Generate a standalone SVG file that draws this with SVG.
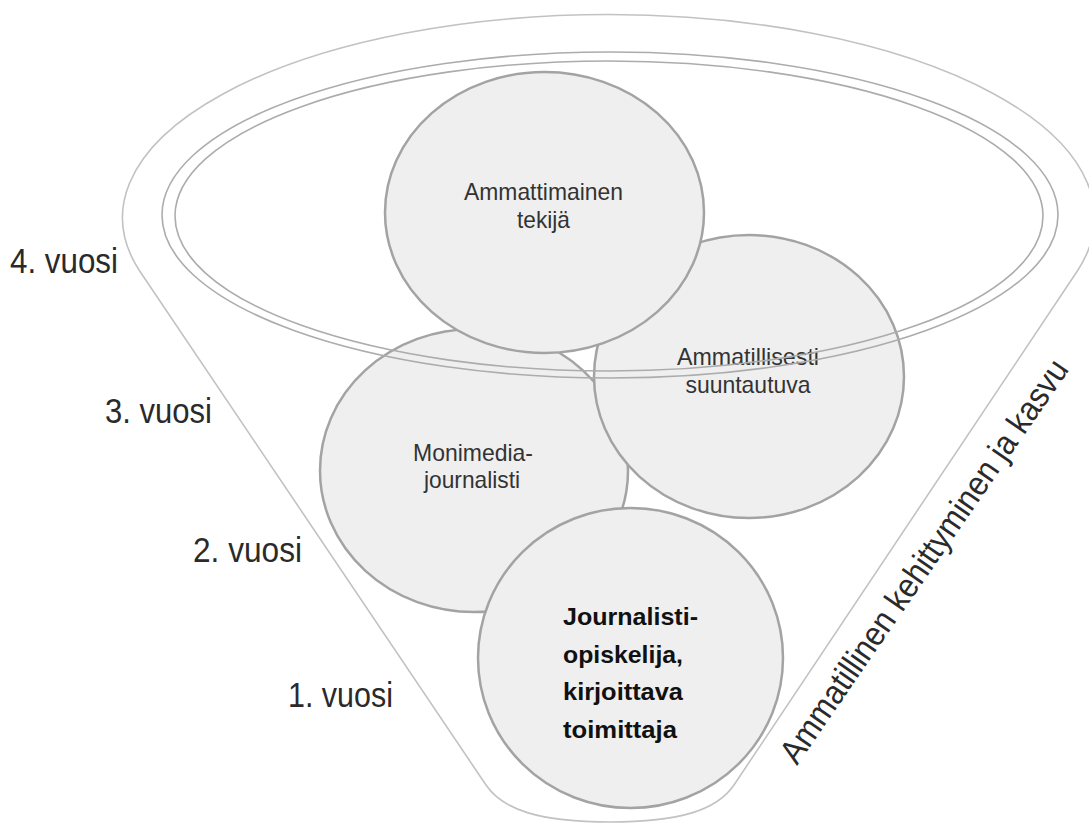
<svg xmlns="http://www.w3.org/2000/svg" width="1089" height="825" viewBox="0 0 1089 825">
<style>
.bubble{fill:#efefef;stroke:#a3a3a3;stroke-width:2.5}
.funnel{fill:none;stroke:#c2c2c2;stroke-width:1.6}
.rim{fill:none;stroke:#acacac;stroke-width:1.6}
.node{font-family:"Liberation Sans",Arial,sans-serif;font-size:24px;fill:#333;text-anchor:middle}
.bold{font-family:"Liberation Sans",Arial,sans-serif;font-weight:bold;font-size:24px;fill:#111}
.year{font-family:"Liberation Sans",Arial,sans-serif;font-size:35px;fill:#2a2a2a}
.side{font-family:"Liberation Sans",Arial,sans-serif;font-size:34px;fill:#2a2a2a}
</style>
<rect width="1089" height="825" fill="#ffffff"/>
<g id="funnel">
<path class="funnel" d="M139 270 A486 203 0 1 1 1078 270 L734 785 C717 810 680 822 610 822 C540 822 503 810 486 785 Z"/>
</g>
<g id="node-monimedia">
<ellipse class="bubble" cx="474" cy="470.5" rx="154" ry="141.5"/>
<text class="node" x="473" y="461" textLength="120" lengthAdjust="spacingAndGlyphs">Monimedia-</text>
<text class="node" x="472" y="488" textLength="96" lengthAdjust="spacingAndGlyphs">journalisti</text>
</g>
<g id="node-journalisti">
<ellipse class="bubble" cx="630.5" cy="658" rx="152.5" ry="150"/>
<text class="bold" x="563" y="625" textLength="135" lengthAdjust="spacingAndGlyphs">Journalisti-</text>
<text class="bold" x="563" y="663" textLength="120" lengthAdjust="spacingAndGlyphs">opiskelija,</text>
<text class="bold" x="563" y="700" textLength="120" lengthAdjust="spacingAndGlyphs">kirjoittava</text>
<text class="bold" x="563" y="738" textLength="114" lengthAdjust="spacingAndGlyphs">toimittaja</text>
</g>
<g id="node-ammatillisesti">
<ellipse class="bubble" cx="749" cy="376.5" rx="155" ry="141.5"/>
<text class="node" x="748" y="365" textLength="142" lengthAdjust="spacingAndGlyphs">Ammatillisesti</text>
<text class="node" x="748" y="393" textLength="125" lengthAdjust="spacingAndGlyphs">suuntautuva</text>
</g>
<g id="node-ammattimainen">
<ellipse class="bubble" cx="544.5" cy="212.5" rx="159.5" ry="140.5"/>
<text class="node" x="543.5" y="200" textLength="159" lengthAdjust="spacingAndGlyphs">Ammattimainen</text>
<text class="node" x="543.5" y="228" textLength="53" lengthAdjust="spacingAndGlyphs">tekijä</text>
</g>
<g id="rim">
<ellipse class="rim" cx="610" cy="215" rx="448" ry="163"/>
<ellipse class="rim" cx="609" cy="216" rx="434" ry="155"/>
</g>
<g id="labels">
<text class="year" x="10" y="273" textLength="108" lengthAdjust="spacingAndGlyphs">4. vuosi</text>
<text class="year" x="105" y="423" textLength="107" lengthAdjust="spacingAndGlyphs">3. vuosi</text>
<text class="year" x="193" y="562" textLength="109" lengthAdjust="spacingAndGlyphs">2. vuosi</text>
<text class="year" x="288" y="707" textLength="105" lengthAdjust="spacingAndGlyphs">1. vuosi</text>
<text class="side" transform="translate(797 766) rotate(-55.5) scale(0.91 1)">Ammatillinen kehittyminen ja kasvu</text>
</g>
</svg>
